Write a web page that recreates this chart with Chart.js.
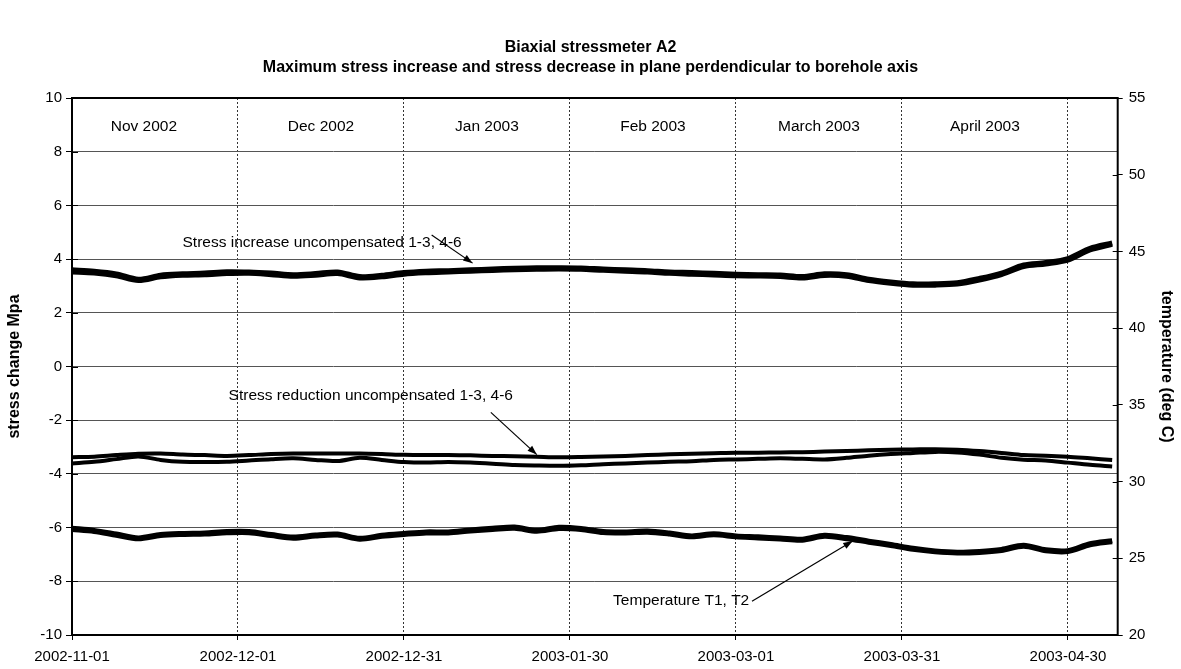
<!DOCTYPE html>
<html>
<head>
<meta charset="utf-8">
<script src="https://cdn.jsdelivr.net/npm/chart.js@4.4.1/dist/chart.umd.min.js"></script>
<style>
  body { margin: 0; background: #fff; }
  canvas { display: block; }
</style>
</head>
<body>
<canvas id="myChart" width="1181" height="669"></canvas>
<script>
// days since 2002-11-01
let days = [0, 4, 8, 12, 16, 20, 24, 28, 32, 36, 40, 44, 48, 52, 56, 60, 64, 68, 72, 76, 80, 84, 88, 92,
            96, 100, 104, 108, 112, 116, 120, 124, 128, 132, 136, 140, 144, 148, 152, 156, 160, 164, 168, 172, 176, 180, 184, 188];

let incr13 = [3.60, 3.55, 3.45, 3.25, 3.40, 3.45, 3.48, 3.53, 3.52, 3.48, 3.42, 3.46, 3.52, 3.35, 3.40, 3.50, 3.55, 3.57, 3.60, 3.63, 3.66, 3.68, 3.68, 3.67,
              3.63, 3.60, 3.57, 3.52, 3.50, 3.47, 3.44, 3.42, 3.41, 3.35, 3.45, 3.42, 3.25, 3.15, 3.08, 3.08, 3.12, 3.28, 3.48, 3.78, 3.87, 4.02, 4.40, 4.60];
let incr46 = [3.52, 3.48, 3.38, 3.20, 3.34, 3.40, 3.42, 3.46, 3.47, 3.42, 3.36, 3.40, 3.46, 3.30, 3.34, 3.44, 3.49, 3.52, 3.55, 3.58, 3.60, 3.62, 3.63, 3.62,
              3.58, 3.55, 3.52, 3.47, 3.44, 3.41, 3.38, 3.37, 3.35, 3.30, 3.39, 3.36, 3.20, 3.10, 3.03, 3.03, 3.07, 3.22, 3.42, 3.72, 3.82, 3.96, 4.34, 4.55];
let red13 = [-3.38, -3.36, -3.30, -3.25, -3.24, -3.28, -3.30, -3.33, -3.30, -3.26, -3.24, -3.24, -3.24, -3.24, -3.26, -3.29, -3.30, -3.30, -3.31, -3.33, -3.34, -3.36, -3.38, -3.37,
             -3.35, -3.33, -3.30, -3.27, -3.25, -3.23, -3.21, -3.21, -3.20, -3.19, -3.17, -3.15, -3.12, -3.10, -3.09, -3.08, -3.10, -3.15, -3.22, -3.30, -3.32, -3.36, -3.42, -3.48];
let red46 = [-3.61, -3.55, -3.45, -3.35, -3.48, -3.55, -3.56, -3.55, -3.50, -3.45, -3.42, -3.48, -3.52, -3.40, -3.48, -3.56, -3.58, -3.56, -3.58, -3.62, -3.67, -3.69, -3.70, -3.68,
             -3.64, -3.61, -3.58, -3.55, -3.53, -3.48, -3.46, -3.44, -3.42, -3.44, -3.46, -3.40, -3.32, -3.26, -3.22, -3.18, -3.20, -3.28, -3.40, -3.47, -3.50, -3.58, -3.66, -3.72];
let tempT1 = [26.96, 26.82, 26.58, 26.33, 26.55, 26.62, 26.65, 26.74, 26.74, 26.55, 26.38, 26.52, 26.58, 26.30, 26.50, 26.62, 26.72, 26.72, 26.85, 26.95, 27.04, 26.82, 27.02, 26.95,
              26.75, 26.72, 26.78, 26.65, 26.46, 26.60, 26.46, 26.40, 26.32, 26.24, 26.50, 26.35, 26.12, 25.90, 25.65, 25.48, 25.40, 25.45, 25.58, 25.85, 25.55, 25.50, 25.95, 26.15];
let tempT2 = [26.88, 26.75, 26.50, 26.27, 26.48, 26.55, 26.58, 26.66, 26.67, 26.48, 26.31, 26.45, 26.51, 26.24, 26.43, 26.55, 26.65, 26.65, 26.78, 26.88, 26.96, 26.76, 26.94, 26.88,
              26.68, 26.65, 26.70, 26.58, 26.40, 26.53, 26.40, 26.33, 26.25, 26.18, 26.43, 26.28, 26.05, 25.83, 25.58, 25.42, 25.34, 25.38, 25.51, 25.78, 25.49, 25.44, 25.88, 26.08];

let tickLabels = ['2002-11-01', '2002-12-01', '2002-12-31', '2003-01-30', '2003-03-01', '2003-03-31', '2003-04-30'];
let monthNames = ['Nov 2002', 'Dec 2002', 'Jan 2003', 'Feb 2003', 'March 2003', 'April 2003'];
let monthDays = [13, 45, 75, 105, 135, 165];

let font = "'Liberation Sans', Arial, sans-serif";

function pts(vals) {
    return vals.map((v, i) => ({ x: days[i], y: v }));
}

function line(label, vals, axis, width) {
    return {
        label: label,
        data: pts(vals),
        yAxisID: axis,
        borderColor: '#000',
        borderWidth: width,
        pointRadius: 0,
        tension: 0.3,
        fill: false
    };
}

// text notes with arrows (in data units of day / left axis)
let notes = [
    { text: 'Stress increase uncompensated 1-3, 4-6', at: [45.2, 4.62], from: [65, 4.9], to: [72.4, 3.85] },
    { text: 'Stress reduction uncompensated 1-3, 4-6', at: [54, -1.09], from: [75.7, -1.71], to: [84, -3.28] },
    { text: 'Temperature T1, T2', at: [110.1, -8.74], from: [122.9, -8.74], to: [141.1, -6.5] }
];

let decor = {
    id: 'decor',
    afterDatasetsDraw(chart) {
        let ctx = chart.ctx;
        let a = chart.chartArea;
        let xs = chart.scales.x, ys = chart.scales.y, y2 = chart.scales.y2;
        ctx.save();

        // month names
        ctx.fillStyle = '#000';
        ctx.font = '15.5px ' + font;
        ctx.textAlign = 'center';
        ctx.textBaseline = 'middle';
        monthNames.forEach((m, i) => {
            ctx.fillText(m, xs.getPixelForValue(monthDays[i]), ys.getPixelForValue(8.92));
        });

        // notes and arrows
        notes.forEach(n => {
            ctx.fillText(n.text, xs.getPixelForValue(n.at[0]), ys.getPixelForValue(n.at[1]));
            let x1 = xs.getPixelForValue(n.from[0]), yy1 = ys.getPixelForValue(n.from[1]);
            let x2 = xs.getPixelForValue(n.to[0]), yy2 = ys.getPixelForValue(n.to[1]);
            ctx.strokeStyle = '#000';
            ctx.lineWidth = 1.2;
            ctx.beginPath();
            ctx.moveTo(x1, yy1);
            ctx.lineTo(x2, yy2);
            ctx.stroke();
            let ang = Math.atan2(yy2 - yy1, x2 - x1);
            ctx.beginPath();
            ctx.moveTo(x2, yy2);
            ctx.lineTo(x2 - 10 * Math.cos(ang - 0.35), yy2 - 10 * Math.sin(ang - 0.35));
            ctx.lineTo(x2 - 10 * Math.cos(ang + 0.35), yy2 - 10 * Math.sin(ang + 0.35));
            ctx.closePath();
            ctx.fill();
        });

        // inner half of the y tick marks (they cross the axis lines)
        ctx.strokeStyle = '#000';
        ctx.lineWidth = 1;
        y2.ticks.forEach(t => {
            let p = Math.round(y2.getPixelForValue(t.value)) + 0.5;
            ctx.beginPath();
            ctx.moveTo(a.right - 5, p);
            ctx.lineTo(a.right, p);
            ctx.stroke();
        });
        ys.ticks.forEach(t => {
            let p = Math.round(ys.getPixelForValue(t.value)) + 0.5;
            ctx.beginPath();
            ctx.moveTo(a.left, p);
            ctx.lineTo(a.left + 6, p);
            ctx.stroke();
        });

        // plot frame
        ctx.lineWidth = 2;
        ctx.strokeRect(a.left, a.top, a.right - a.left, a.bottom - a.top);
        ctx.restore();
    }
};

let ctx = document.getElementById('myChart').getContext('2d');

let chart = new Chart(ctx, {
    type: 'line',
    data: {
        datasets: [
            line('Stress increase 1-3', incr13, 'y', 5),
            line('Stress increase 4-6', incr46, 'y', 5),
            line('Stress reduction 1-3', red13, 'y', 4),
            line('Stress reduction 4-6', red46, 'y', 4),
            line('Temperature T1', tempT1, 'y2', 5),
            line('Temperature T2', tempT2, 'y2', 5)
        ]
    },
    options: {
        responsive: false,
        animation: false,
        layout: { padding: 0 },
        plugins: {
            legend: { display: false },
            tooltip: { enabled: false },
            title: {
                display: true,
                text: ['Biaxial stressmeter A2', 'Maximum stress increase and stress decrease in plane perdendicular to borehole axis'],
                color: '#000',
                font: { family: font, size: 16, weight: 'bold', lineHeight: 1.25 },
                padding: { top: 38, bottom: 20 }
            }
        },
        scales: {
            x: {
                type: 'linear',
                min: 0,
                max: 189,
                afterFit: s => { s.height = 34; },
                ticks: {
                    stepSize: 30,
                    includeBounds: false,
                    autoSkip: false,
                    maxRotation: 0,
                    color: '#000',
                    padding: 8,
                    font: { family: font, size: 15 },
                    callback: v => tickLabels[Math.round(v / 30)]
                },
                grid: { color: '#333', lineWidth: 1, tickLength: 5, tickColor: '#000' },
                border: { display: false, dash: [2, 2] }
            },
            y: {
                position: 'left',
                min: -10,
                max: 10,
                afterFit: s => { s.width = 72; },
                ticks: { stepSize: 2, color: '#000', padding: 4, font: { family: font, size: 15 } },
                grid: { color: '#555', lineWidth: 1, tickLength: 6, tickColor: '#000' },
                border: { display: false },
                title: {
                    display: true,
                    text: 'stress change Mpa',
                    color: '#000',
                    font: { family: font, size: 16, weight: 'bold' },
                    padding: { top: 5, bottom: 0 }
                }
            },
            y2: {
                position: 'right',
                min: 20,
                max: 55,
                afterFit: s => { s.width = 63.3; },
                ticks: { stepSize: 5, color: '#000', padding: 6, font: { family: font, size: 15 } },
                grid: { drawOnChartArea: false, tickLength: 5, tickColor: '#000' },
                border: { display: false },
                title: {
                    display: true,
                    text: 'temperature (deg C)',
                    color: '#000',
                    font: { family: font, size: 16, weight: 'bold' },
                    padding: { top: 5, bottom: 0 }
                }
            }
        }
    },
    plugins: [decor]
});
</script>
</body>
</html>
